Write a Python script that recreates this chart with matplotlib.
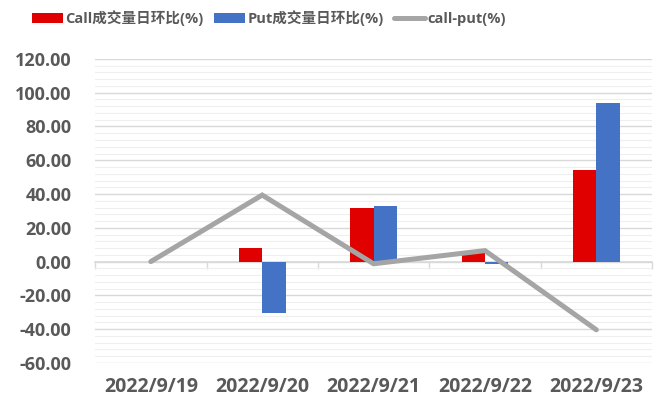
import matplotlib.pyplot as plt
import numpy as np
from matplotlib.ticker import MultipleLocator

dates = ["2022/9/19", "2022/9/20", "2022/9/21", "2022/9/22", "2022/9/23"]
call_chg = [0.0, 8.2, 31.8, 5.2, 54.3]
put_chg = [0.0, -30.6, 33.1, -1.3, 94.0]
call_put = [0.0, 39.4, -1.3, 6.5, -40.4]

plt.rcParams["font.family"] = ["Open Sans", "Noto Sans CJK SC", "DejaVu Sans"]
text_color = "#595959"

fig = plt.figure(figsize=(6.56, 4.01), dpi=100)
ax = fig.add_axes((0.145, 0.095, 0.849, 0.758))

x = np.arange(len(dates))
w = 0.21
b1 = ax.bar(x - w / 2, call_chg, w, color="#E00000", label="Call成交量日环比(%)", zorder=3)
b2 = ax.bar(x + w / 2, put_chg, w, color="#4472C4", label="Put成交量日环比(%)", zorder=3)
(ln,) = ax.plot(x, call_put, color="#A5A5A5", linewidth=3.6, solid_capstyle="round",
                solid_joinstyle="miter", label="call-put(%)", zorder=4)

ax.set_xlim(-0.5, len(dates) - 0.5)
ax.set_ylim(-60, 120)
ax.yaxis.set_major_locator(MultipleLocator(20))
ax.yaxis.set_minor_locator(MultipleLocator(4))
ax.yaxis.set_major_formatter(lambda v, p: f"{v:.2f}")
ax.grid(axis="y", which="major", color="#D9D9D9", linewidth=1.0, zorder=0)
ax.grid(axis="y", which="minor", color="#EFEFEF", linewidth=0.8, zorder=0)
ax.tick_params(axis="y", which="both", length=0, pad=17, labelsize=13,
               labelcolor=text_color)
ax.set_xticks(x)
ax.set_xticklabels(dates)
ax.tick_params(axis="x", length=0, pad=10, labelsize=14, labelcolor=text_color)
for lab in ax.get_xticklabels() + ax.get_yticklabels():
    lab.set_fontweight("bold")
for s in ax.spines.values():
    s.set_visible(False)

# category axis drawn at zero
zero_ax = ax.secondary_xaxis(1 / 3)
zero_ax.set_xticks(np.arange(len(dates) + 1) - 0.5)
zero_ax.set_xticklabels([])
zero_ax.tick_params(length=5, color="#D9D9D9", width=1)
zero_ax.spines["bottom"].set_color("#D9D9D9")
zero_ax.spines["bottom"].set_linewidth(1.2)

fig.legend(handles=[b1, b2, ln], loc="center", bbox_to_anchor=(0.41, 0.955), ncol=3,
           frameon=False, prop={"size": 10.5, "weight": "bold"}, handlelength=2.1,
           handletextpad=0.2, columnspacing=0.7, labelcolor=text_color)

fig.savefig("out.png", dpi=100)
